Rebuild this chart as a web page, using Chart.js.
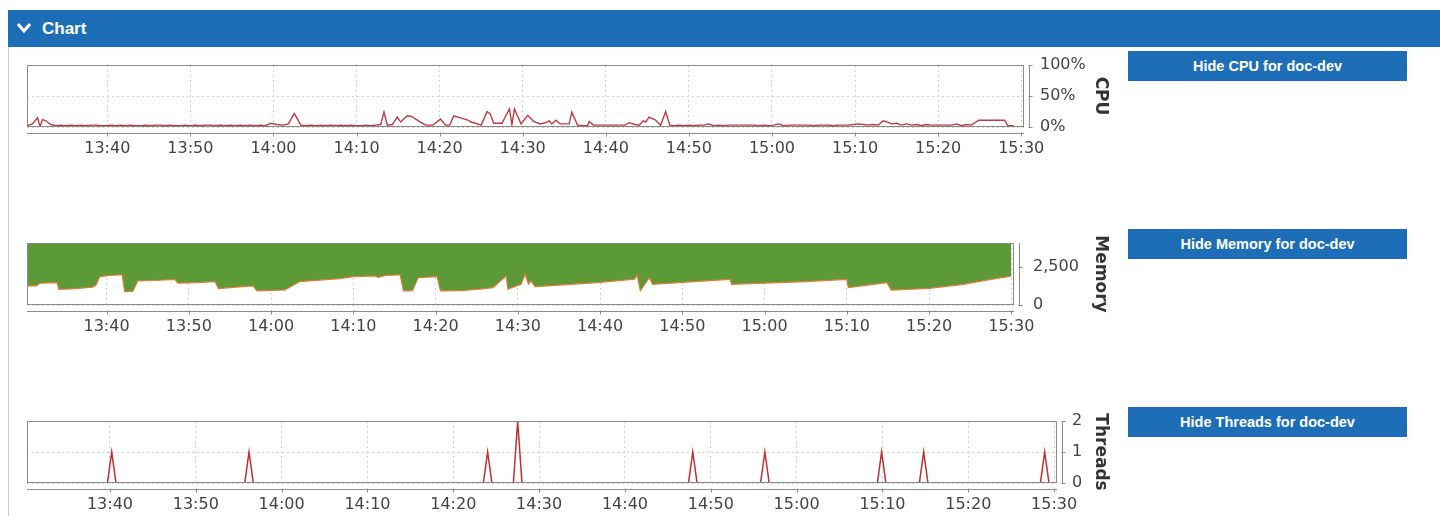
<!DOCTYPE html>
<html>
<head>
<meta charset="utf-8">
<script src="https://cdn.jsdelivr.net/npm/chart.js@4.4.1/dist/chart.umd.min.js"></script>
<style>
html,body{margin:0;padding:0;background:#fff;width:1440px;height:516px;overflow:hidden;position:relative;font-family:"Liberation Sans",Arial,sans-serif}
#leftrule{position:absolute;left:8px;top:10px;width:1px;height:506px;background:#c5ccd4}
#header{position:absolute;left:8px;top:10px;width:1432px;height:37px;background:#1e6eb7;color:#fff}
#header .t{position:absolute;left:34px;top:0;line-height:37px;font-weight:bold;font-size:17px}
#header svg{position:absolute;left:0;top:0}
.btn{position:absolute;left:1128px;width:279px;height:30px;background:#1e6eb7;color:#fff;font-weight:bold;font-size:14.5px;line-height:30px;text-align:center}
canvas{position:absolute;left:20px}
</style>
</head>
<body>
<div id="leftrule"></div>
<div id="header">
  <svg width="34" height="37"><polyline points="10,14 16,21 22,14" fill="none" stroke="#fff" stroke-width="3"/></svg>
  <div class="t">Chart</div>
</div>
<div class="btn" style="top:51px">Hide CPU for doc-dev</div>
<div class="btn" style="top:229px">Hide Memory for doc-dev</div>
<div class="btn" style="top:407px">Hide Threads for doc-dev</div>

<canvas id="cpu" width="1091" height="105" style="top:55px"></canvas>
<canvas id="mem" width="1091" height="105" style="top:233px"></canvas>
<canvas id="thr" width="1091" height="105" style="top:411px"></canvas>

<script>
// ---- data (times are minutes after seriesStart) ----
const seriesStart = '13:30';
const xRange = ['13:30:20', '15:30:20'];
const xTickLabels = ['13:40','13:50','14:00','14:10','14:20','14:30','14:40','14:50','15:00','15:10','15:20','15:30'];

const cpuMinutes = [
  0.3,1.0,1.6,1.9,2.2,2.6,3.2,3.8,4.4,5.0,
  5.6,6.2,6.8,7.4,8.0,8.6,9.2,9.8,10.4,11.0,
  11.6,12.2,12.8,13.4,14.0,14.6,15.2,15.8,16.4,17.0,
  17.6,18.2,18.8,19.4,20.0,20.6,21.2,21.8,22.4,23.0,
  23.6,24.2,24.8,25.4,26.0,26.6,27.2,27.8,28.4,29.0,
  29.7,30.4,31.2,31.8,32.5,33.3,33.9,34.5,35.1,35.7,
  36.3,36.9,37.5,38.1,38.7,39.3,39.9,40.5,41.1,41.7,
  42.3,42.9,43.3,43.7,44.3,44.9,45.3,46.1,46.6,47.7,
  48.3,49.2,50.1,50.7,51.2,51.7,52.9,53.4,53.8,54.3,
  55.0,55.7,56.1,56.5,57.5,58.4,58.7,59.0,59.8,60.6,
  61.3,62.1,62.8,63.2,63.5,64.0,64.5,65.6,65.9,66.6,
  67.2,67.8,68.0,68.5,69.1,69.7,70.3,70.9,71.5,72.3,
  72.8,73.5,74.0,74.5,74.8,75.2,75.9,76.6,77.2,77.7,
  78.2,78.8,79.4,80.0,80.6,81.2,81.8,82.4,83.0,83.6,
  84.2,84.8,85.4,86.0,86.6,87.2,87.8,88.4,89.0,89.6,
  90.2,90.8,91.4,92.0,92.6,93.2,93.8,94.4,95.0,95.6,
  96.2,96.8,97.4,98.0,98.6,99.2,99.8,100.4,101.0,101.6,
  102.2,102.8,103.4,103.9,104.4,105.0,105.6,106.2,106.8,107.4,
  108.0,108.6,109.2,109.8,110.4,111.0,111.6,112.2,112.8,113.4,
  114.0,114.9,115.8,117.0,118.0,118.4,119.1
];
const cpuPercent = [
  2,5,15,1,12,10,4,2,3,2,
  3,2,3,2,3,3,2,2,3,2,
  3,2,3,2,2,3,2,3,3,2,
  3,2,2,3,2,3,2,3,3,2,
  3,2,3,2,3,2,3,2,3,2,
  6,4,3,5,22,3,2,3,2,3,
  2,3,2,3,2,3,2,2,3,2,
  3,4,24,3,4,16,8,18,17,8,
  3,3,13,3,3,18,13,11,8,6,
  3,25,21,6,6,29,4,29,5,19,
  9,5,7,10,5,11,5,5,24,3,
  2,2,9,3,3,3,3,3,3,3,
  7,4,3,10,8,16,12,3,25,3,
  2,3,2,3,2,3,3,5,2,3,
  2,3,3,3,3,3,3,2,3,2,
  3,5,2,3,3,3,3,3,2,3,
  3,3,2,3,3,3,4,5,4,3,
  4,3,10,8,5,6,3,5,3,4,
  2,4,3,3,3,3,3,5,2,4,
  3,11,11,11,11,2,2
];
const cpuTicks = [0, 50, 100];

const memMinutes = [
  0.3,1.5,1.9,4.0,4.2,6.2,8.3,8.7,9.2,10.4,
  11.9,12.2,13.2,13.8,15.9,18.3,18.7,20.8,23.2,23.6,
  26.2,27.8,28.3,31.7,33.5,35.9,38.4,40.0,42.7,43.0,
  43.9,45.7,46.1,47.2,47.9,50.2,50.6,53.0,55.4,57.0,
  57.9,58.6,58.8,60.4,60.9,61.3,61.6,62.1,66.0,70.0,
  74.2,74.5,74.9,76.0,76.4,80.0,85.8,86.0,90.0,95.0,
  100.0,100.2,104.9,105.4,110.0,114.0,117.0,120.0
];
const memUsedMB = [
  1260,1270,1440,1480,1040,1080,1180,1300,1880,1950,
  2000,880,900,1590,1620,1700,1440,1480,1550,1080,
  1200,1260,930,1000,1550,1650,1750,1880,1920,1820,
  1950,2000,930,950,1810,1880,930,950,1050,1150,
  1600,1900,1050,1370,2030,1370,1600,1220,1350,1500,
  1700,2000,940,1810,1370,1500,1700,1370,1450,1550,
  1700,1150,1480,980,1100,1350,1650,1900
];
const memMaxMB = 4096;
const memTicks = [0, 2500];

const threadMinutes = [
  0.3,9.7,10.2,10.7,25.7,26.2,26.7,53.5,54.0,54.5,
  57.0,57.5,58.0,77.4,77.9,78.4,85.8,86.3,86.8,99.4,
  99.9,100.4,104.3,104.8,105.3,118.4,118.9,119.4,120.3
];
const threadCount = [
  0,0,1,0,0,1,0,0,1,0,
  0,2,0,0,1,0,0,1,0,0,
  1,0,0,1,0,0,1,0,0
];
const threadTicks = [0, 1, 2];

// ---- helpers ----
function toMin(s){ const p = s.split(':').map(Number); return p[0]*60 + p[1] + (p[2]||0)/60; }
const base = toMin(seriesStart);
const xMin = toMin(xRange[0]), xMax = toMin(xRange[1]);
const pts = (ts, vs) => ts.map((t,i)=>({x: base + t, y: vs[i]}));
const CLEAR = 'rgba(0,0,0,0)';

const framePlugin = {
  id: 'frame',
  afterDatasetsDraw(chart){
    const {ctx, chartArea:a, scales:{x, y}} = chart;
    ctx.save();
    ctx.strokeStyle = '#8a8a8a';
    ctx.lineWidth = 1;
    const L = Math.round(a.left), T = Math.round(a.top), R = Math.round(a.right), B = Math.round(a.bottom);
    ctx.strokeRect(L + 0.5, T + 0.5, R - L - 1, B - T - 1);
    ctx.beginPath();
    const ax = B + 6.5;
    ctx.moveTo(L, ax); ctx.lineTo(R, ax);
    x.ticks.forEach(t => { const px = Math.round(x.getPixelForValue(t.value)) + 0.5; ctx.moveTo(px, ax - 1); ctx.lineTo(px, ax + 3); });
    const ay = R + 5.5;
    ctx.moveTo(ay, T); ctx.lineTo(ay, B);
    y.ticks.forEach(t => { const py = Math.round(y.getPixelForValue(t.value)) + 0.5; ctx.moveTo(ay - 1, py); ctx.lineTo(ay + 3, py); });
    ctx.stroke();
    ctx.restore();
  }
};

function makeChart(id, datasets, cfg){
  return new Chart(document.getElementById(id), {
    type: 'line',
    data: { datasets },
    plugins: [framePlugin],
    options: {
      responsive: false, animation: false, devicePixelRatio: 1,
      layout: { padding: { left: 7, top: 10, right: 0, bottom: 0 } },
      plugins: { legend: { display: false }, tooltip: { enabled: false } },
      elements: { point: { radius: 0 }, line: { tension: 0 } },
      scales: {
        x: {
          type: 'linear', position: 'bottom', bounds: 'data', min: xMin, max: xMax,
          afterBuildTicks(s){ s.ticks = xTickLabels.map(l => ({ value: toMin(l) })); },
          afterFit(s){ s.height = 33; },
          grid: { color: '#d2d2d2', drawTicks: true, tickLength: 12, tickColor: CLEAR, lineWidth: 1 },
          border: { display: false, dash: [2, 3] },
          ticks: { padding: 0, color: '#444', font: { family: 'DejaVu Sans', size: 16 }, maxRotation: 0, autoSkip: false,
                   callback: (v, i) => xTickLabels[i] }
        },
        y: {
          type: 'linear', position: 'right', bounds: 'data', min: cfg.min, max: cfg.max,
          afterBuildTicks(s){ s.ticks = cfg.ticks.map(v => ({ value: v })); },
          afterFit(s){ s.width = cfg.width; },
          grid: { color: '#d2d2d2', drawTicks: true, tickLength: cfg.pad, tickColor: CLEAR, lineWidth: 1 },
          border: { display: false, dash: [2, 3] },
          ticks: { padding: 0, color: '#444', font: { family: 'DejaVu Sans', size: 16 }, callback: cfg.fmt },
          title: { display: true, text: cfg.title, color: '#333', font: { family: 'DejaVu Sans', size: 17, weight: 'bold' }, padding: { top: 0, bottom: 0 } }
        }
      }
    }
  });
}

makeChart('cpu', [{
  data: pts(cpuMinutes, cpuPercent), borderColor: '#c03a44', borderWidth: 1.4, fill: false
}], { min: 0, max: 100, ticks: cpuTicks, width: 87, pad: 16, title: 'CPU', fmt: v => v + '%' });

makeChart('mem', [{
  data: pts(memMinutes, memUsedMB), borderColor: '#e07b39', borderWidth: 1.2, fill: 'end', backgroundColor: '#5b9a36'
}, {
  data: [{ x: xMin, y: memMaxMB }, { x: base + memMinutes[memMinutes.length - 1], y: memMaxMB }],
  borderColor: '#34506a', borderWidth: 1.5, fill: false
}], { min: 0, max: 4100, ticks: memTicks, width: 97, pad: 19, title: 'Memory', fmt: v => v.toLocaleString('en-US') });

makeChart('thr', [{
  data: pts(threadMinutes, threadCount), borderColor: '#bf2f30', borderWidth: 1.5, fill: false
}], { min: 0, max: 2, ticks: threadTicks, width: 54, pad: 15, title: 'Threads', fmt: v => String(v) });
</script>
</body>
</html>
